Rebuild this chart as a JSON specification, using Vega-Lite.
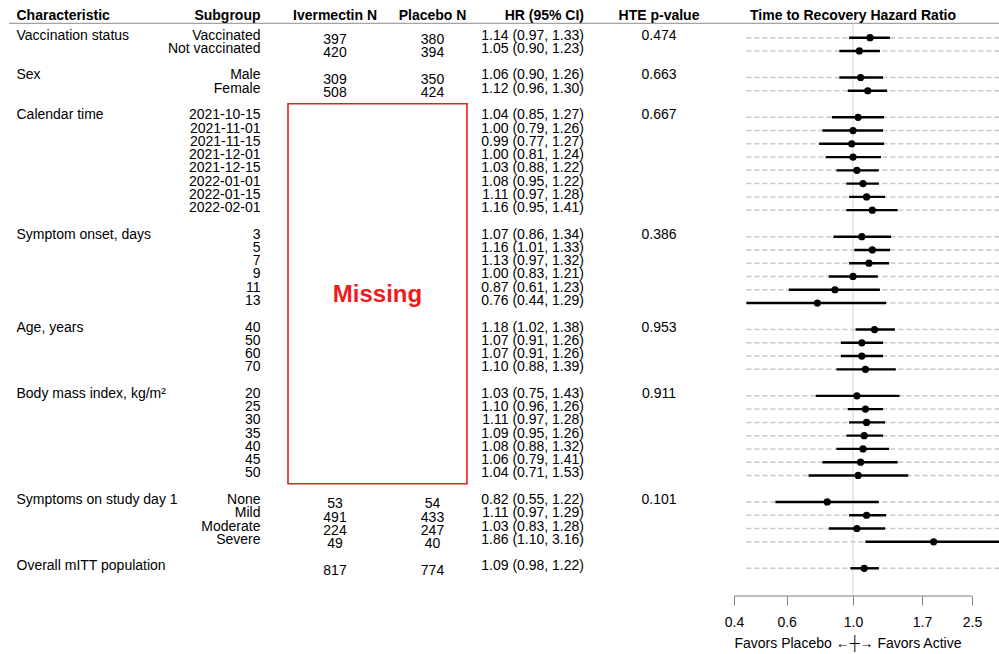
{
  "$schema": "https://vega.github.io/schema/vega-lite/v6.json",
  "padding": {"left": 8, "top": 0, "right": 0, "bottom": 0},
  "spacing": 0,
  "bounds": "flush",
  "config": {
    "font": "Liberation Sans",
    "view": {"stroke": null},
    "concat": {"spacing": 0},
    "text": {"font": "Liberation Sans", "fontSize": 14, "color": "black"},
    "axis": {"labelFont": "Liberation Sans", "titleFont": "Liberation Sans"}
  },
  "datasets": {
    "rows": [
      {"row": 0, "char": "Vaccination status", "sub": "Vaccinated", "ivm": "397", "pla": "380", "ci": "1.14 (0.97, 1.33)", "p": "0.474", "hr": 1.14, "lo": 0.97, "hi": 1.33},
      {"row": 1, "sub": "Not vaccinated", "ivm": "420", "pla": "394", "ci": "1.05 (0.90, 1.23)", "hr": 1.05, "lo": 0.90, "hi": 1.23},
      {"row": 3, "char": "Sex", "sub": "Male", "ivm": "309", "pla": "350", "ci": "1.06 (0.90, 1.26)", "p": "0.663", "hr": 1.06, "lo": 0.90, "hi": 1.26},
      {"row": 4, "sub": "Female", "ivm": "508", "pla": "424", "ci": "1.12 (0.96, 1.30)", "hr": 1.12, "lo": 0.96, "hi": 1.30},
      {"row": 6, "char": "Calendar time", "sub": "2021-10-15", "ci": "1.04 (0.85, 1.27)", "p": "0.667", "hr": 1.04, "lo": 0.85, "hi": 1.27},
      {"row": 7, "sub": "2021-11-01", "ci": "1.00 (0.79, 1.26)", "hr": 1.00, "lo": 0.79, "hi": 1.26},
      {"row": 8, "sub": "2021-11-15", "ci": "0.99 (0.77, 1.27)", "hr": 0.99, "lo": 0.77, "hi": 1.27},
      {"row": 9, "sub": "2021-12-01", "ci": "1.00 (0.81, 1.24)", "hr": 1.00, "lo": 0.81, "hi": 1.24},
      {"row": 10, "sub": "2021-12-15", "ci": "1.03 (0.88, 1.22)", "hr": 1.03, "lo": 0.88, "hi": 1.22},
      {"row": 11, "sub": "2022-01-01", "ci": "1.08 (0.95, 1.22)", "hr": 1.08, "lo": 0.95, "hi": 1.22},
      {"row": 12, "sub": "2022-01-15", "ci": "1.11 (0.97, 1.28)", "hr": 1.11, "lo": 0.97, "hi": 1.28},
      {"row": 13, "sub": "2022-02-01", "ci": "1.16 (0.95, 1.41)", "hr": 1.16, "lo": 0.95, "hi": 1.41},
      {"row": 15, "char": "Symptom onset, days", "sub": "3", "ci": "1.07 (0.86, 1.34)", "p": "0.386", "hr": 1.07, "lo": 0.86, "hi": 1.34},
      {"row": 16, "sub": "5", "ci": "1.16 (1.01, 1.33)", "hr": 1.16, "lo": 1.01, "hi": 1.33},
      {"row": 17, "sub": "7", "ci": "1.13 (0.97, 1.32)", "hr": 1.13, "lo": 0.97, "hi": 1.32},
      {"row": 18, "sub": "9", "ci": "1.00 (0.83, 1.21)", "hr": 1.00, "lo": 0.83, "hi": 1.21},
      {"row": 19, "sub": "11", "ci": "0.87 (0.61, 1.23)", "hr": 0.87, "lo": 0.61, "hi": 1.23},
      {"row": 20, "sub": "13", "ci": "0.76 (0.44, 1.29)", "hr": 0.76, "lo": 0.44, "hi": 1.29},
      {"row": 22, "char": "Age, years", "sub": "40", "ci": "1.18 (1.02, 1.38)", "p": "0.953", "hr": 1.18, "lo": 1.02, "hi": 1.38},
      {"row": 23, "sub": "50", "ci": "1.07 (0.91, 1.26)", "hr": 1.07, "lo": 0.91, "hi": 1.26},
      {"row": 24, "sub": "60", "ci": "1.07 (0.91, 1.26)", "hr": 1.07, "lo": 0.91, "hi": 1.26},
      {"row": 25, "sub": "70", "ci": "1.10 (0.88, 1.39)", "hr": 1.10, "lo": 0.88, "hi": 1.39},
      {"row": 27, "char": "Body mass index, kg/m²", "sub": "20", "ci": "1.03 (0.75, 1.43)", "p": "0.911", "hr": 1.03, "lo": 0.75, "hi": 1.43},
      {"row": 28, "sub": "25", "ci": "1.10 (0.96, 1.26)", "hr": 1.10, "lo": 0.96, "hi": 1.26},
      {"row": 29, "sub": "30", "ci": "1.11 (0.97, 1.28)", "hr": 1.11, "lo": 0.97, "hi": 1.28},
      {"row": 30, "sub": "35", "ci": "1.09 (0.95, 1.26)", "hr": 1.09, "lo": 0.95, "hi": 1.26},
      {"row": 31, "sub": "40", "ci": "1.08 (0.88, 1.32)", "hr": 1.08, "lo": 0.88, "hi": 1.32},
      {"row": 32, "sub": "45", "ci": "1.06 (0.79, 1.41)", "hr": 1.06, "lo": 0.79, "hi": 1.41},
      {"row": 33, "sub": "50", "ci": "1.04 (0.71, 1.53)", "hr": 1.04, "lo": 0.71, "hi": 1.53},
      {"row": 35, "char": "Symptoms on study day 1", "sub": "None", "ivm": "53", "pla": "54", "ci": "0.82 (0.55, 1.22)", "p": "0.101", "hr": 0.82, "lo": 0.55, "hi": 1.22},
      {"row": 36, "sub": "Mild", "ivm": "491", "pla": "433", "ci": "1.11 (0.97, 1.29)", "hr": 1.11, "lo": 0.97, "hi": 1.29},
      {"row": 37, "sub": "Moderate", "ivm": "224", "pla": "247", "ci": "1.03 (0.83, 1.28)", "hr": 1.03, "lo": 0.83, "hi": 1.28},
      {"row": 38, "sub": "Severe", "ivm": "49", "pla": "40", "ci": "1.86 (1.10, 3.16)", "hr": 1.86, "lo": 1.10, "hi": 3.16},
      {"row": 40, "char": "Overall mITT population", "ivm": "817", "pla": "774", "ci": "1.09 (0.98, 1.22)", "hr": 1.09, "lo": 0.98, "hi": 1.22}
    ]
  },
  "hconcat": [
    {
      "width": 152, "height": 654,
      "layer": [
        {"data": {"values": [{}]}, "mark": {"type": "rule", "color": "#8c8c8c", "strokeWidth": 1},
         "encoding": {"y": {"datum": -1.085, "type": "quantitative", "scale": {"domain": [-2.842, 46.46], "reverse": true, "nice": false, "zero": false}, "axis": null}}},
        {"data": {"values": [{"h": "Characteristic"}]}, "mark": {"type": "text", "align": "left", "dx": 7.5, "fontWeight": "bold"},
         "encoding": {"x": {"datum": "c", "type": "nominal", "scale": {"type": "point", "align": 0}, "axis": null},
                      "y": {"datum": -1.64, "type": "quantitative", "scale": {"domain": [-2.842, 46.46], "reverse": true, "nice": false, "zero": false}, "axis": null},
                      "text": {"field": "h"}}},
        {"data": {"name": "rows"}, "transform": [{"filter": "isValid(datum.char)"}], "mark": {"type": "text", "align": "left", "dx": 7.5, "dy": -2},
         "encoding": {"x": {"datum": "c", "type": "nominal", "scale": {"type": "point", "align": 0}, "axis": null},
                      "y": {"field": "row", "type": "quantitative", "scale": {"domain": [-2.842, 46.46], "reverse": true, "nice": false, "zero": false}, "axis": null},
                      "text": {"field": "char"}}}
      ]
    },
    {
      "width": 127, "height": 654,
      "layer": [
        {"data": {"values": [{}]}, "mark": {"type": "rule", "color": "#8c8c8c", "strokeWidth": 1},
         "encoding": {"y": {"datum": -1.085, "type": "quantitative", "scale": {"domain": [-2.842, 46.46], "reverse": true, "nice": false, "zero": false}, "axis": null}}},
        {"data": {"values": [{"h": "Subgroup"}]}, "mark": {"type": "text", "align": "right", "dx": -27.5, "fontWeight": "bold"},
         "encoding": {"x": {"datum": "s", "type": "nominal", "scale": {"type": "point", "align": 1}, "axis": null},
                      "y": {"datum": -1.64, "type": "quantitative", "scale": {"domain": [-2.842, 46.46], "reverse": true, "nice": false, "zero": false}, "axis": null},
                      "text": {"field": "h"}}},
        {"data": {"name": "rows"}, "transform": [{"filter": "isValid(datum.sub)"}], "mark": {"type": "text", "align": "right", "dx": -27.5, "dy": -2},
         "encoding": {"x": {"datum": "s", "type": "nominal", "scale": {"type": "point", "align": 1}, "axis": null},
                      "y": {"field": "row", "type": "quantitative", "scale": {"domain": [-2.842, 46.46], "reverse": true, "nice": false, "zero": false}, "axis": null},
                      "text": {"field": "sub"}}}
      ]
    },
    {
      "width": 179, "height": 654,
      "layer": [
        {"data": {"values": [{}]}, "mark": {"type": "rule", "color": "#8c8c8c", "strokeWidth": 1},
         "encoding": {"y": {"datum": -1.085, "type": "quantitative", "scale": {"domain": [-2.842, 46.46], "reverse": true, "nice": false, "zero": false}, "axis": null}}},
        {"data": {"values": [{"k": "ivm", "h": "Ivermectin N"}, {"k": "pla", "h": "Placebo N"}]}, "mark": {"type": "text", "align": "center", "fontWeight": "bold"},
         "encoding": {"x": {"field": "k", "type": "nominal", "scale": {"type": "point", "domain": ["ivm", "pla"], "padding": 0.418, "align": 0.5767}, "axis": null},
                      "y": {"datum": -1.64, "type": "quantitative", "scale": {"domain": [-2.842, 46.46], "reverse": true, "nice": false, "zero": false}, "axis": null},
                      "text": {"field": "h"}}},
        {"data": {"name": "rows"}, "transform": [{"filter": "isValid(datum.ivm)"}], "mark": {"type": "text", "align": "center", "dy": 2.5},
         "encoding": {"x": {"datum": "ivm", "type": "nominal", "scale": {"type": "point", "domain": ["ivm", "pla"], "padding": 0.418, "align": 0.5767}, "axis": null},
                      "y": {"field": "row", "type": "quantitative", "scale": {"domain": [-2.842, 46.46], "reverse": true, "nice": false, "zero": false}, "axis": null},
                      "text": {"field": "ivm", "type": "nominal"}}},
        {"data": {"name": "rows"}, "transform": [{"filter": "isValid(datum.pla)"}], "mark": {"type": "text", "align": "center", "dy": 2.5},
         "encoding": {"x": {"datum": "pla", "type": "nominal", "scale": {"type": "point", "domain": ["ivm", "pla"], "padding": 0.418, "align": 0.5767}, "axis": null},
                      "y": {"field": "row", "type": "quantitative", "scale": {"domain": [-2.842, 46.46], "reverse": true, "nice": false, "zero": false}, "axis": null},
                      "text": {"field": "pla", "type": "nominal"}}},
        {"data": {"values": [{}]}, "mark": {"type": "rect", "fill": null, "fillOpacity": 0, "stroke": "#ee1c1c", "strokeWidth": 1.6},
         "encoding": {"y": {"datum": 4.975, "type": "quantitative", "scale": {"domain": [-2.842, 46.46], "reverse": true, "nice": false, "zero": false}, "axis": null},
                      "y2": {"datum": 33.62}}},
        {"data": {"values": [{"t": "Missing"}]}, "mark": {"type": "text", "align": "center", "fontSize": 24, "fontWeight": "bold", "color": "#ee1c1c"},
         "encoding": {"y": {"datum": 19.4, "type": "quantitative", "scale": {"domain": [-2.842, 46.46], "reverse": true, "nice": false, "zero": false}, "axis": null},
                      "text": {"field": "t"}}}
      ]
    },
    {
      "width": 117, "height": 654,
      "layer": [
        {"data": {"values": [{}]}, "mark": {"type": "rule", "color": "#8c8c8c", "strokeWidth": 1},
         "encoding": {"y": {"datum": -1.085, "type": "quantitative", "scale": {"domain": [-2.842, 46.46], "reverse": true, "nice": false, "zero": false}, "axis": null}}},
        {"data": {"values": [{"h": "HR (95% CI)"}]}, "mark": {"type": "text", "align": "right", "fontWeight": "bold"},
         "encoding": {"x": {"datum": "h", "type": "nominal", "scale": {"type": "point", "align": 1}, "axis": null},
                      "y": {"datum": -1.64, "type": "quantitative", "scale": {"domain": [-2.842, 46.46], "reverse": true, "nice": false, "zero": false}, "axis": null},
                      "text": {"field": "h"}}},
        {"data": {"name": "rows"}, "transform": [{"filter": "isValid(datum.ci)"}], "mark": {"type": "text", "align": "right", "dy": -2},
         "encoding": {"x": {"datum": "h", "type": "nominal", "scale": {"type": "point", "align": 1}, "axis": null},
                      "y": {"field": "row", "type": "quantitative", "scale": {"domain": [-2.842, 46.46], "reverse": true, "nice": false, "zero": false}, "axis": null},
                      "text": {"field": "ci"}}}
      ]
    },
    {
      "width": 150, "height": 654,
      "layer": [
        {"data": {"values": [{}]}, "mark": {"type": "rule", "color": "#8c8c8c", "strokeWidth": 1},
         "encoding": {"y": {"datum": -1.085, "type": "quantitative", "scale": {"domain": [-2.842, 46.46], "reverse": true, "nice": false, "zero": false}, "axis": null}}},
        {"data": {"values": [{"h": "HTE p-value"}]}, "mark": {"type": "text", "align": "center", "fontWeight": "bold"},
         "encoding": {"x": {"datum": "p", "type": "nominal", "scale": {"type": "point", "align": 0.5}, "axis": null},
                      "y": {"datum": -1.64, "type": "quantitative", "scale": {"domain": [-2.842, 46.46], "reverse": true, "nice": false, "zero": false}, "axis": null},
                      "text": {"field": "h"}}},
        {"data": {"name": "rows"}, "transform": [{"filter": "isValid(datum.p)"}], "mark": {"type": "text", "align": "center", "dy": -2},
         "encoding": {"x": {"datum": "p", "type": "nominal", "scale": {"type": "point", "align": 0.5}, "axis": null},
                      "y": {"field": "row", "type": "quantitative", "scale": {"domain": [-2.842, 46.46], "reverse": true, "nice": false, "zero": false}, "axis": null},
                      "text": {"field": "p"}}}
      ]
    },
    {
      "width": 266, "height": 596,
      "layer": [
        {"data": {"values": [{}]}, "mark": {"type": "rule", "color": "#8c8c8c", "strokeWidth": 1},
         "encoding": {"y": {"datum": -1.085, "type": "quantitative", "scale": {"domain": [-2.842, 42.088], "reverse": true, "nice": false, "zero": false}, "axis": null}}},
        {"data": {"values": [{"h": "Time to Recovery Hazard Ratio", "x": 1}]}, "mark": {"type": "text", "align": "center", "fontWeight": "bold"},
         "encoding": {"x": {"field": "x", "type": "quantitative", "scale": {"type": "log", "domain": [0.4, 3.1], "nice": false, "zero": false}},
                      "y": {"datum": -1.64, "type": "quantitative", "scale": {"domain": [-2.842, 42.088], "reverse": true, "nice": false, "zero": false}, "axis": null},
                      "text": {"field": "h"}}},
        {"data": {"values": [{}]}, "mark": {"type": "rule", "color": "#d4d4d4", "strokeWidth": 1},
         "encoding": {"x": {"datum": 1, "type": "quantitative"},
                      "y": {"datum": -1.085, "type": "quantitative", "scale": {"domain": [-2.842, 42.088], "reverse": true, "nice": false, "zero": false}, "axis": null},
                      "y2": {"datum": 42.088}}},
        {"data": {"name": "rows"}, "transform": [{"filter": "isValid(datum.hr)"}], "mark": {"type": "rule", "color": "#c8c8c8", "strokeWidth": 1.5, "strokeDash": [5, 3]},
         "encoding": {"x": {"datum": 0.44, "type": "quantitative"}, "x2": {"datum": 3.1},
                      "y": {"field": "row", "type": "quantitative", "scale": {"domain": [-2.842, 42.088], "reverse": true, "nice": false, "zero": false}, "axis": null}}},
        {"data": {"name": "rows"}, "transform": [{"filter": "isValid(datum.hr)"}], "mark": {"type": "rule", "color": "black", "strokeWidth": 2.4, "clip": true},
         "encoding": {"x": {"field": "lo", "type": "quantitative", "title": "Favors Placebo ←┼→ Favors Active"}, "x2": {"field": "hi"},
                      "y": {"field": "row", "type": "quantitative", "scale": {"domain": [-2.842, 42.088], "reverse": true, "nice": false, "zero": false}, "axis": null}}},
        {"data": {"name": "rows"}, "transform": [{"filter": "isValid(datum.hr)"}], "mark": {"type": "circle", "color": "black", "opacity": 1, "size": 52},
         "encoding": {"x": {"field": "hr", "type": "quantitative", "title": "Favors Placebo ←┼→ Favors Active",
                            "axis": {"values": [0.4, 0.6, 1, 1.7, 2.5], "format": ".1f", "domain": false, "grid": false, "tickColor": "#7f7f7f", "tickSize": 9, "tickWidth": 1,
                                     "labelFontSize": 14, "labelColor": "black", "labelPadding": 10, "labelFlush": false, "labelOverlap": false,
                                     "titleFontSize": 14, "titleFontWeight": "normal", "titleColor": "black", "titleAnchor": "start", "titlePadding": 7}},
                      "y": {"field": "row", "type": "quantitative", "scale": {"domain": [-2.842, 42.088], "reverse": true, "nice": false, "zero": false}, "axis": null}}},
        {"data": {"values": [{}]}, "mark": {"type": "rule", "color": "#7f7f7f", "strokeWidth": 1},
         "encoding": {"x": {"datum": 0.4, "type": "quantitative"}, "x2": {"datum": 2.5},
                      "y": {"datum": 42.088, "type": "quantitative", "scale": {"domain": [-2.842, 42.088], "reverse": true, "nice": false, "zero": false}, "axis": null}}}
      ]
    }
  ]
}
